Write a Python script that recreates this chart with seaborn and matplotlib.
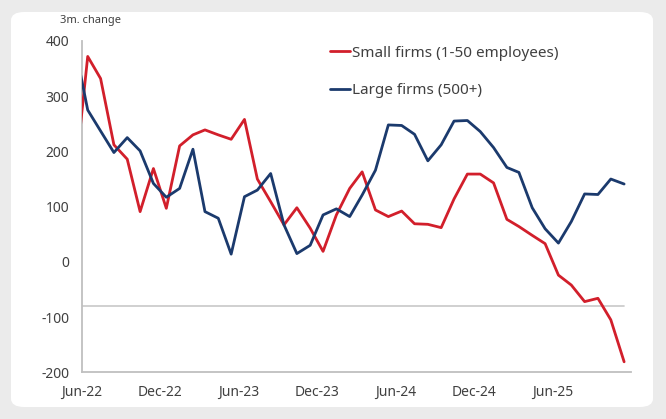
import matplotlib
matplotlib.use("Agg")
import matplotlib.pyplot as plt
from matplotlib.patches import FancyBboxPatch
import numpy as np
import pandas as pd
import seaborn as sns

# ---- data (monthly 3m change, mid-month observations; first point May-22 is clipped by the axis) ----
months = pd.date_range("2022-05-01", periods=43, freq="MS") + pd.Timedelta(days=14)
small_firms = [142, 372, 332, 212, 186, 91, 169, 97, 210, 230, 239, 230, 222, 258, 150,
               109, 67, 98, 61, 19, 85, 133, 163, 94, 82, 92, 69, 68, 62, 114,
               159, 159, 143, 77, 64, 48, 33, -24, -42, -72, -66, -105, -181]
large_firms = [395, 275, 237, 198, 225, 201, 142, 117, 133, 204, 91, 79, 14, 118, 130,
               160, 67, 15, 30, 85, 96, 82, 121, 166, 248, 247, 231, 183, 212, 255,
               256, 236, 207, 171, 162, 98, 60, 34, 73, 123, 122, 150, 141]
ref_level = -80
series_names = ["Small firms (1-50 employees)", "Large firms (500+)"]
tick_dates = pd.to_datetime(["2022-06-01", "2022-12-01", "2023-06-01", "2023-12-01",
                             "2024-06-01", "2024-12-01", "2025-06-01", "2025-12-01"])
tick_labels = ["Jun-22", "Dec-22", "Jun-23", "Dec-23", "Jun-24", "Dec-24", "Jun-25", ""]
y_ticks = [-200, -100, 0, 100, 200, 300, 400]
y_title = "3m. change"

colors = ["#d21f2b", "#1b3a6d"]

df = pd.DataFrame({
    "date": list(months) * 2,
    "value": small_firms + large_firms,
    "series": [series_names[0]] * len(months) + [series_names[1]] * len(months),
})

sns.set_style("white")
plt.rcParams["font.family"] = ["Noto Sans", "DejaVu Sans"]
plt.rcParams["axes.unicode_minus"] = False

W, H = 666, 419
fig = plt.figure(figsize=(W / 100, H / 100), dpi=100)
fig.patch.set_facecolor("#ebebeb")
panel = FancyBboxPatch((11 / W, 12 / H), 642 / W, 395 / H,
                       boxstyle="round,pad=0,rounding_size=0.02",
                       transform=fig.transFigure, facecolor="white", edgecolor="none", zorder=-10)
fig.patches.append(panel)

ax = fig.add_axes([81.7 / W, 1 - 372.3 / H, (631 - 81.7) / W, (372.3 - 41) / H])
ax.set_zorder(1)
ax.set_facecolor("none")

ax.plot(months, [ref_level] * len(months), color="#c8c8c8", lw=1.2, zorder=1)
sns.lineplot(data=df, x="date", y="value", hue="series", palette=colors,
             linewidth=2.0, ax=ax, legend=True, zorder=3)

ax.set_xlim(tick_dates[0], tick_dates[-1])
ax.set_ylim(-200, 400)
ax.set_yticks(y_ticks)
ax.set_xticks(tick_dates)
ax.set_xticklabels(tick_labels)
ax.set_xlabel("")
ax.set_ylabel("")

for s in ["top", "right"]:
    ax.spines[s].set_visible(False)
for s in ["left", "bottom"]:
    ax.spines[s].set_color("#bfbfbf")
    ax.spines[s].set_linewidth(1.3)

ax.tick_params(axis="y", direction="out", length=5, width=1.2, color="#bfbfbf",
               labelsize=10, labelcolor="#404040", pad=4)
ax.tick_params(axis="x", direction="out", length=4, width=1.2, color="#bfbfbf",
               labelsize=10, labelcolor="#404040", pad=5)

leg = ax.legend(loc="upper left", bbox_to_anchor=(0.441, 1.004), frameon=False,
                handlelength=1.3, handletextpad=0.12, labelspacing=1.45,
                fontsize=11, borderaxespad=0)
for t in leg.get_texts():
    t.set_color("#404040")
for h in leg.get_lines():
    h.set_linewidth(2.0)

fig.text(60 / W, 1 - 20 / H, y_title, fontsize=8, color="#404040", va="center", ha="left")

fig.savefig("out.png", dpi=100, facecolor=fig.get_facecolor())
